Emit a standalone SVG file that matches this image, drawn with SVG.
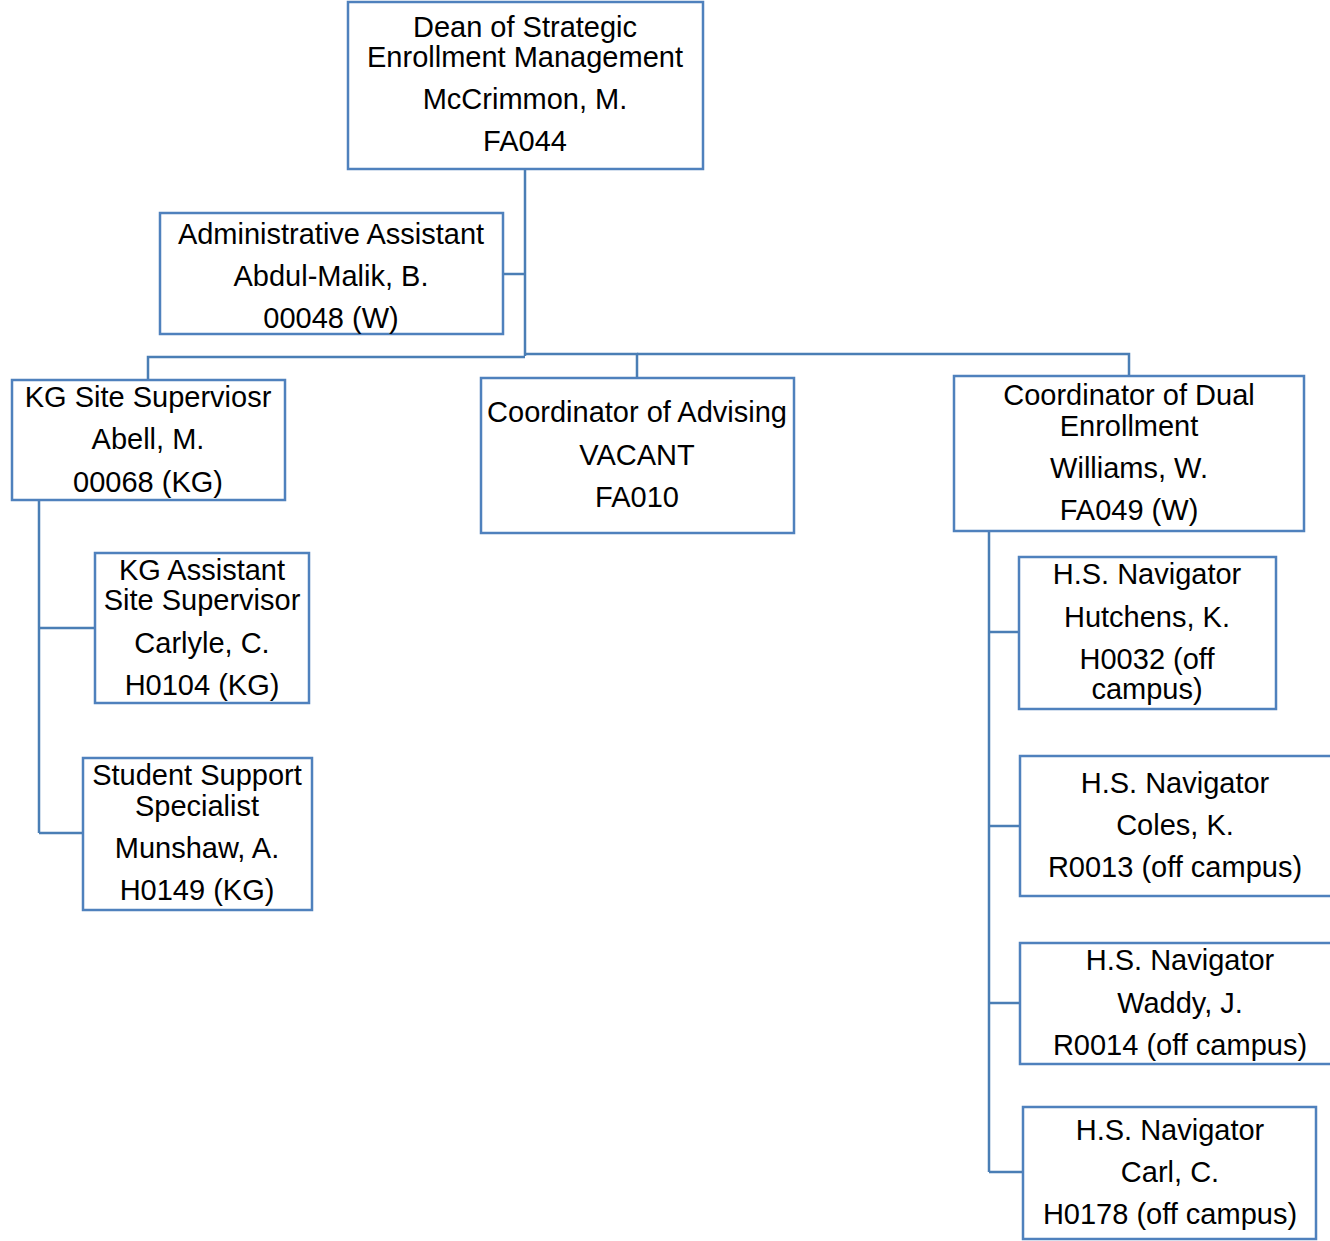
<svg xmlns="http://www.w3.org/2000/svg" width="1330" height="1241" viewBox="0 0 1330 1241">
<style>
.box{fill:#fff;stroke:#4f81bd;stroke-width:2.5}
.c{fill:none;stroke:#4a7eb5;stroke-width:2.5}
text{font-family:"Liberation Sans",Arial,sans-serif;font-size:29px;fill:#000;text-anchor:middle}
</style>
<rect width="1330" height="1241" fill="#fff"/>
<g id="connectors">
<path class="c" d="M525 169V356"/>
<path class="c" d="M503 274H525"/>
<path class="c" d="M525 357H148V380"/>
<path class="c" d="M525 354H637V378"/>
<path class="c" d="M637 354H1129V376"/>
<path class="c" d="M39 500V833"/>
<path class="c" d="M39 628H95"/>
<path class="c" d="M39 833H83"/>
<path class="c" d="M989 531V1172"/>
<path class="c" d="M989 632H1019"/>
<path class="c" d="M989 826H1020"/>
<path class="c" d="M989 1003H1020"/>
<path class="c" d="M989 1172H1023"/>
</g>
<g id="dean"><rect class="box" x="348" y="2" width="355" height="167"/>
<text x="525" y="37">Dean of Strategic</text><text x="525" y="67">Enrollment Management</text><text x="525" y="109">McCrimmon, M.</text><text x="525" y="151">FA044</text></g>
<g id="admin"><rect class="box" x="160" y="213" width="343" height="121"/>
<text x="331" y="244">Administrative Assistant</text><text x="331" y="286">Abdul-Malik, B.</text><text x="331" y="328">00048 (W)</text></g>
<g id="kgsite"><rect class="box" x="12" y="380" width="273" height="120"/>
<text x="148" y="407">KG Site Superviosr</text><text x="148" y="449">Abell, M.</text><text x="148" y="492">00068 (KG)</text></g>
<g id="advising"><rect class="box" x="481" y="378" width="313" height="155"/>
<text x="637" y="422">Coordinator of Advising</text><text x="637" y="465">VACANT</text><text x="637" y="507">FA010</text></g>
<g id="dual"><rect class="box" x="954" y="376" width="350" height="155"/>
<text x="1129" y="405">Coordinator of Dual</text><text x="1129" y="436">Enrollment</text><text x="1129" y="478">Williams, W.</text><text x="1129" y="520">FA049 (W)</text></g>
<g id="kgasst"><rect class="box" x="95" y="553" width="214" height="150"/>
<text x="202" y="580">KG Assistant</text><text x="202" y="610">Site Supervisor</text><text x="202" y="653">Carlyle, C.</text><text x="202" y="695">H0104 (KG)</text></g>
<g id="support"><rect class="box" x="83" y="758" width="229" height="152"/>
<text x="197" y="785">Student Support</text><text x="197" y="816">Specialist</text><text x="197" y="858">Munshaw, A.</text><text x="197" y="900">H0149 (KG)</text></g>
<g id="hutchens"><rect class="box" x="1019" y="557" width="257" height="152"/>
<text x="1147" y="584">H.S. Navigator</text><text x="1147" y="627">Hutchens, K.</text><text x="1147" y="669">H0032 (off</text><text x="1147" y="699">campus)</text></g>
<g id="coles"><rect class="box" x="1020" y="756" width="312" height="140"/>
<text x="1175" y="793">H.S. Navigator</text><text x="1175" y="835">Coles, K.</text><text x="1175" y="877">R0013 (off campus)</text></g>
<g id="waddy"><rect class="box" x="1020" y="943" width="312" height="121"/>
<text x="1180" y="970">H.S. Navigator</text><text x="1180" y="1013">Waddy, J.</text><text x="1180" y="1055">R0014 (off campus)</text></g>
<g id="carl"><rect class="box" x="1023" y="1107" width="293" height="132"/>
<text x="1170" y="1140">H.S. Navigator</text><text x="1170" y="1182">Carl, C.</text><text x="1170" y="1224">H0178 (off campus)</text></g>
</svg>
